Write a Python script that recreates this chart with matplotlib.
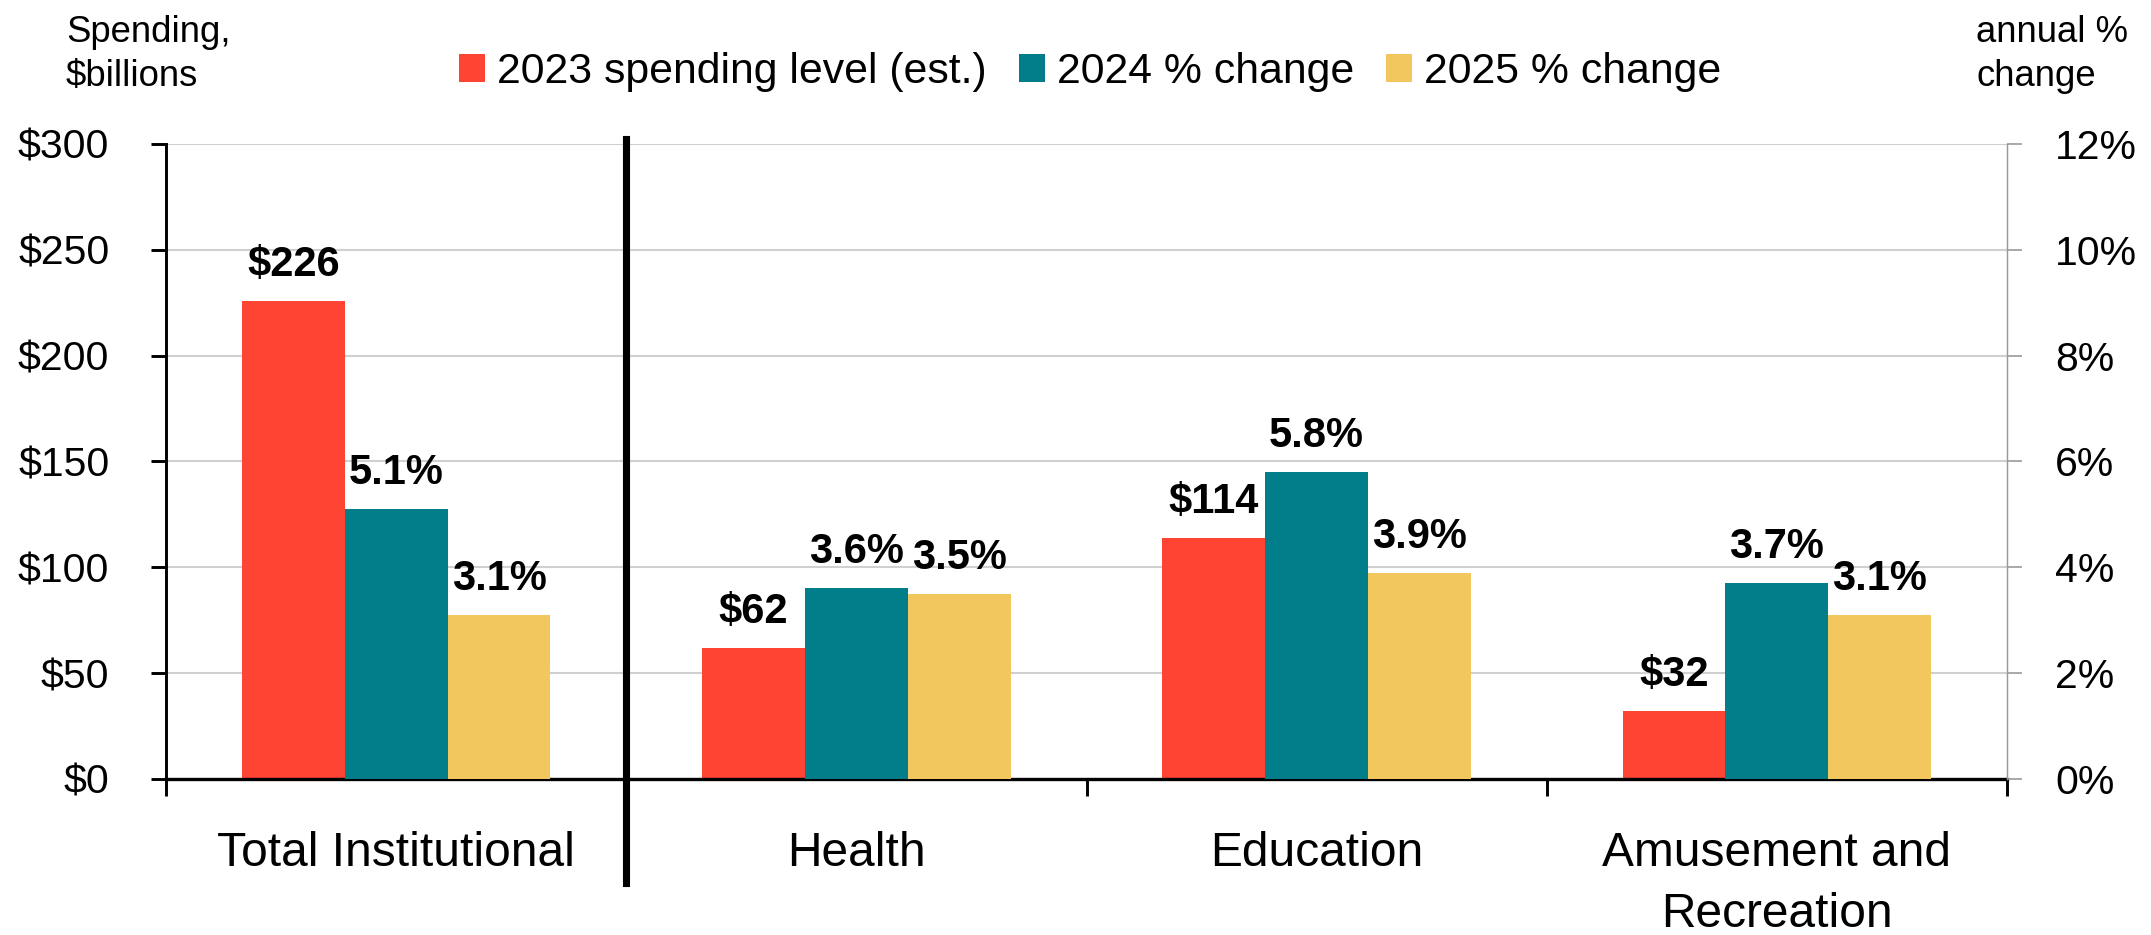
import numpy as np
import matplotlib
matplotlib.use("Agg")
import matplotlib.pyplot as plt
from matplotlib.lines import Line2D

plt.rcParams['font.family'] = ['Liberation Sans', 'DejaVu Sans']

categories = ['Total Institutional', 'Health', 'Education', 'Amusement and\nRecreation']
spend_2023 = [226, 62, 114, 32]      # $ billions
chg_2024 = [5.1, 3.6, 5.8, 3.7]      # annual % change
chg_2025 = [3.1, 3.5, 3.9, 3.1]
series_names = ['2023 spending level (est.)', '2024 % change', '2025 % change']
colors = ['#FE4433', '#017E89', '#F1C75E']

W, H, DPI = 2151, 935, 150
fig = plt.figure(figsize=(W / DPI, H / DPI), dpi=DPI)
ax = fig.add_axes([166 / W, 1 - 779 / H, (2007 - 166) / W, (779 - 144) / H])
ax2 = ax.twinx()

x = np.arange(len(categories))
bw = 0.2235

b1 = ax.bar(x - bw, spend_2023, bw, color=colors[0], zorder=2)
b2 = ax2.bar(x, chg_2024, bw, color=colors[1], zorder=2)
b3 = ax2.bar(x + bw, chg_2025, bw, color=colors[2], zorder=2)

lab_kw = dict(xytext=(0, 12), textcoords='offset points', ha='center',
              va='baseline', fontsize=20, fontweight='bold')
for xi, v in zip(x - bw, spend_2023):
    ax.annotate(f'${v}', (xi, v), **lab_kw)
for xi, v in zip(x, chg_2024):
    ax2.annotate(f'{v:.1f}%', (xi, v), **lab_kw)
for xi, v in zip(x + bw, chg_2025):
    ax2.annotate(f'{v:.1f}%', (xi, v), **lab_kw)

# left axis: dollars
ax.set_xlim(-0.5, len(categories) - 0.5)
ax.set_ylim(0, 300)
ax.set_yticks(np.arange(0, 301, 50))
ax.set_yticklabels([f'${v}' for v in range(0, 301, 50)])
ax.yaxis.grid(True, color='#D0D0D0', linewidth=1.0)
ax.set_axisbelow(True)
ax.tick_params(axis='y', length=7.2, width=1.4, pad=20, labelsize=19.7)

# right axis: percent
ax2.set_ylim(0, 12)
ax2.set_yticks(np.arange(0, 13, 2))
ax2.set_yticklabels([f'{v}%' for v in range(0, 13, 2)])
ax2.tick_params(axis='y', length=7.2, width=0.8, color='#999999', pad=16, labelsize=19.7)

# group boundaries as major ticks, names on minor ticks
ax.set_xticks(np.arange(-0.5, len(categories), 1.0))
ax.set_xticklabels([])
ax.set_xticks(x, minor=True)
ax.set_xticklabels(categories, minor=True, fontsize=23, linespacing=1.45)
ax.tick_params(axis='x', which='major', length=8, width=1.4, direction='out')
ax.tick_params(axis='x', which='minor', length=0, pad=25)

for a in (ax, ax2):
    a.spines['top'].set_visible(False)
ax.spines['right'].set_visible(False)
ax2.spines['left'].set_visible(False)
ax2.spines['bottom'].set_visible(False)
ax.spines['left'].set_linewidth(1.4)
ax.spines['bottom'].set_linewidth(1.6)
ax.spines['bottom'].set_zorder(5)
ax2.spines['right'].set_color('#999999')
ax2.spines['right'].set_linewidth(0.7)

# divider between the total and the subcategories
ax.add_line(Line2D([0.5, 0.5], [-0.164, 1.008], transform=ax.get_xaxis_transform(),
                   color='black', linewidth=3.4, clip_on=False, zorder=6))

fig.legend([b1, b2, b3], series_names, loc='center', bbox_to_anchor=(0.507, 0.923),
           ncol=3, frameon=False, fontsize=20.5, handlelength=0.61, handleheight=0.63,
           handletextpad=0.28, columnspacing=0.75)

fig.text(66 / W, 1 - 15 / H, 'Spending,\n$billions', ha='left', va='top',
         fontsize=17.5, linespacing=1.33)
fig.text(1976 / W, 1 - 15 / H, 'annual %\nchange', ha='left', va='top',
         fontsize=17.5, linespacing=1.33)

fig.savefig('out.png', dpi=DPI)
